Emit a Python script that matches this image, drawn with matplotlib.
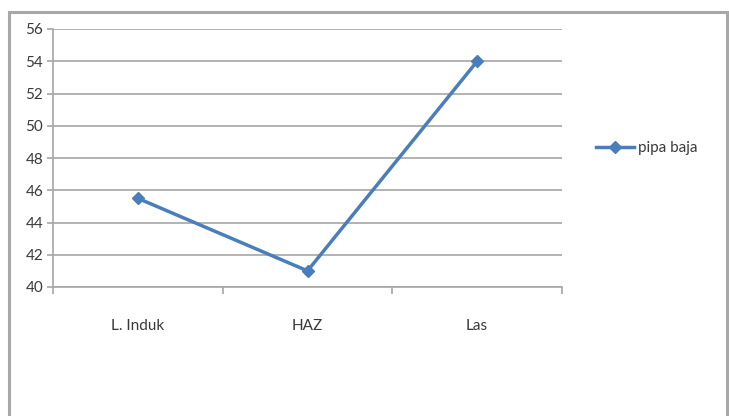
import matplotlib
matplotlib.use("Agg")
import matplotlib.pyplot as plt
from matplotlib.patches import Rectangle

categories = ["L. Induk", "HAZ", "Las"]
pipa_baja = [45.5, 41, 54]
y_ticks = [40, 42, 44, 46, 48, 50, 52, 54, 56]
series_name = "pipa baja"

W, H = 729, 416
plt.rcParams['font.family'] = ['Lato', 'DejaVu Sans']

fig = plt.figure(figsize=(W / 100, H / 100), dpi=100)
fig.patch.set_facecolor("white")

# chart frame
fig.add_artist(Rectangle((9 / W, -0.05), (727 - 9) / W, 1 - 12 / H + 0.05,
                         transform=fig.transFigure, fill=False,
                         edgecolor="#a8a8a8", linewidth=2.2))

left, right, top, bottom = 53, 562, 29, 287
ax = fig.add_axes([left / W, 1 - bottom / H, (right - left) / W, (bottom - top) / H])

blue = "#4a7ebb"
x = list(range(len(categories)))
ax.plot(x, pipa_baja, color=blue, linewidth=2.5, marker="D", markersize=6.5,
        label=series_name, zorder=3)

ax.set_xlim(-0.5, len(categories) - 0.5)
ax.set_ylim(y_ticks[0], y_ticks[-1])
ax.set_yticks(y_ticks)
ax.set_xticks(x)
ax.set_xticklabels(categories)
ax.set_xticks([i - 0.5 for i in range(len(categories) + 1)], minor=True)

ax.grid(axis="y", color="#a6a6a6", linewidth=1.2)
ax.set_axisbelow(True)
for s in ["top", "right"]:
    ax.spines[s].set_visible(False)
for s in ["left", "bottom"]:
    ax.spines[s].set_color("#a6a6a6")
    ax.spines[s].set_linewidth(1.2)

ax.tick_params(axis="y", length=4, width=1.2, color="#a6a6a6", labelsize=11,
               labelcolor="#3a3a3a", pad=3)
ax.tick_params(axis="x", which="major", length=0, labelsize=11,
               labelcolor="#3a3a3a", pad=23)
ax.tick_params(axis="x", which="minor", length=5, width=1.2, color="#a6a6a6")

ax.legend(loc="center left", bbox_to_anchor=((596 - left) / (right - left), (bottom - 148) / (bottom - top)),
          frameon=False, fontsize=11, handlelength=2.5, handletextpad=0.25,
          labelcolor="#3a3a3a", borderaxespad=0, borderpad=0)

fig.savefig("out.png", dpi=100, facecolor="white")
